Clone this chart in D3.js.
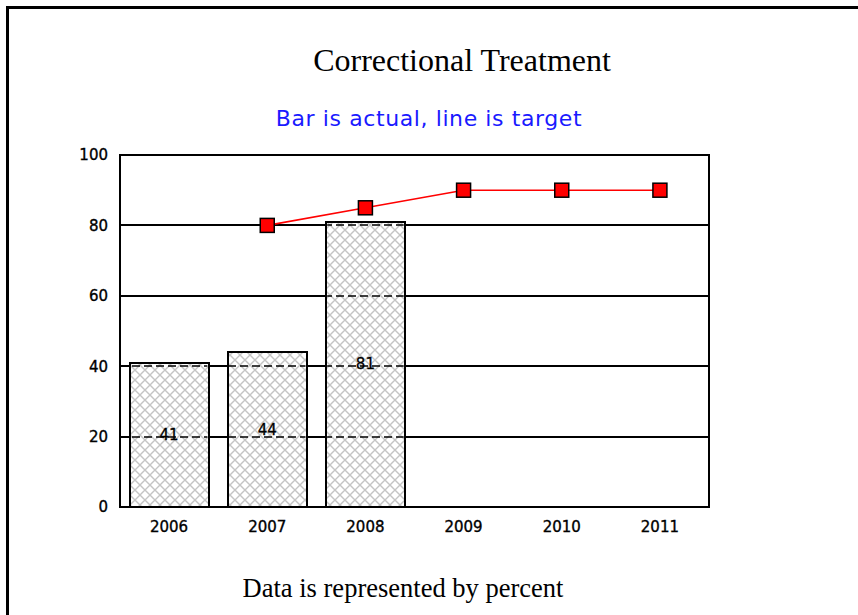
<!DOCTYPE html>
<html>
<head>
<meta charset="utf-8">
<script src="https://cdn.jsdelivr.net/npm/d3@7"></script>
<style>
  body { margin: 0; background: #fff; }
  svg { display: block; }
</style>
</head>
<body>
<div id="viz"></div>
<script>
// Chart data
const years = ['2006', '2007', '2008', '2009', '2010', '2011'];
const actual = [41, 44, 81, null, null, null];
const target = [null, 80, 85, 90, 90, 90];
const yTicks = [0, 20, 40, 60, 80, 100];

const W = 858, H = 615;
const margin = { top: 155, right: 149, bottom: 108, left: 120 };
const width = W - margin.left - margin.right;
const height = H - margin.top - margin.bottom;

const svg = d3.select('#viz').append('svg')
    .attr('width', W)
    .attr('height', H);

// hatch pattern for bars
const defs = svg.append('defs');
const pat = defs.append('pattern')
    .attr('id', 'hatch')
    .attr('patternUnits', 'userSpaceOnUse')
    .attr('width', 10).attr('height', 10);
pat.append('rect').attr('width', 10).attr('height', 10).attr('fill', '#fff');
pat.append('path').attr('d', 'M0,0 L10,10 M10,0 L0,10')
    .attr('stroke', '#c4c4c4').attr('stroke-width', 1.4);

// outer frame (only top and left visible)
svg.append('path')
    .attr('d', `M7.5,${H} L7.5,7.5 L${W + 5},7.5`)
    .attr('fill', 'none')
    .attr('stroke', '#000')
    .attr('stroke-width', 3);

// titles
svg.append('text')
    .attr('x', 462).attr('y', 71)
    .attr('text-anchor', 'middle')
    .style('font-family', '"Liberation Serif", "Times New Roman", serif')
    .style('font-size', '32px')
    .text('Correctional Treatment');

svg.append('text')
    .attr('x', 429).attr('y', 126)
    .attr('text-anchor', 'middle')
    .attr('fill', '#1a1aff')
    .style('font-family', '"DejaVu Sans", Arial, sans-serif')
    .style('font-size', '22px')
    .style('letter-spacing', '0.6px')
    .text('Bar is actual, line is target');

svg.append('text')
    .attr('x', 403).attr('y', 597)
    .attr('text-anchor', 'middle')
    .style('font-family', '"Liberation Serif", "Times New Roman", serif')
    .style('font-size', '26.5px')
    .text('Data is represented by percent');

const g = svg.append('g')
    .attr('transform', `translate(${margin.left},${margin.top})`);

const xScale = d3.scaleBand()
    .domain(years)
    .range([0, width])
    .paddingInner(0.2)
    .paddingOuter(0.1);

const xPoint = d => xScale(d) + xScale.bandwidth() / 2;

const yScale = d3.scaleLinear()
    .domain([0, 100])
    .range([height, 0]);

const gridTicks = yTicks.filter(t => t > 0 && t < 100);

// gridlines
g.selectAll('.grid')
    .data(gridTicks)
    .enter().append('line')
    .attr('class', 'grid')
    .attr('x1', 0).attr('x2', width)
    .attr('y1', d => Math.round(yScale(d)))
    .attr('y2', d => Math.round(yScale(d)))
    .attr('stroke', '#000')
    .attr('stroke-width', 2);

const barData = years.map((y, i) => ({ year: y, value: actual[i] })).filter(d => d.value != null);

// bars
g.selectAll('.bar')
    .data(barData)
    .enter().append('rect')
    .attr('class', 'bar')
    .attr('x', d => Math.round(xScale(d.year)))
    .attr('y', d => Math.round(yScale(d.value)))
    .attr('width', Math.round(xScale.bandwidth()))
    .attr('height', d => height - Math.round(yScale(d.value)))
    .attr('fill', 'url(#hatch)')
    .attr('stroke', '#000')
    .attr('stroke-width', 2);

// dashed gridlines seen through bars
const clip = defs.append('clipPath').attr('id', 'barclip');
clip.selectAll('rect')
    .data(barData)
    .enter().append('rect')
    .attr('x', d => xScale(d.year) + 1)
    .attr('y', d => yScale(d.value) + 1)
    .attr('width', xScale.bandwidth() - 2)
    .attr('height', d => height - yScale(d.value) - 1);

g.append('g')
    .attr('clip-path', 'url(#barclip)')
    .selectAll('line')
    .data(gridTicks)
    .enter().append('line')
    .attr('x1', 0).attr('x2', width)
    .attr('y1', d => Math.round(yScale(d)))
    .attr('y2', d => Math.round(yScale(d)))
    .attr('stroke', '#000')
    .attr('stroke-width', 1.6)
    .attr('stroke-dasharray', '8,4');

// bar value labels
g.selectAll('.label')
    .data(barData)
    .enter().append('text')
    .attr('class', 'label')
    .attr('x', d => xPoint(d.year))
    .attr('y', d => yScale(d.value / 2) + 5)
    .attr('text-anchor', 'middle')
    .attr('stroke', '#000')
    .attr('stroke-width', 0.3)
    .style('font-family', '"DejaVu Sans", Arial, sans-serif')
    .style('font-size', '15px')
    .text(d => d.value);

// plot frame
g.append('rect')
    .attr('x', 0).attr('y', 0)
    .attr('width', width).attr('height', height)
    .attr('fill', 'none')
    .attr('stroke', '#000')
    .attr('stroke-width', 2);

// axes
const yAxis = g.append('g')
    .call(d3.axisLeft(yScale).tickValues(yTicks).tickSize(0).tickPadding(12));
yAxis.select('.domain').remove();
yAxis.selectAll('text')
    .style('font-family', '"DejaVu Sans", Arial, sans-serif')
    .style('font-size', '15px')
    .attr('fill', '#000')
    .attr('stroke', '#000')
    .attr('stroke-width', 0.35);

const xAxis = g.append('g')
    .attr('transform', `translate(0,${height})`)
    .call(d3.axisBottom(xScale).tickSize(0).tickPadding(14));
xAxis.select('.domain').remove();
xAxis.selectAll('text')
    .style('font-family', '"DejaVu Sans", Arial, sans-serif')
    .style('font-size', '15px')
    .attr('fill', '#000')
    .attr('stroke', '#000')
    .attr('stroke-width', 0.35);

// target line
const lineData = years.map((y, i) => ({ year: y, value: target[i] })).filter(d => d.value != null);

g.append('path')
    .datum(lineData)
    .attr('fill', 'none')
    .attr('stroke', '#ff0000')
    .attr('stroke-width', 1.6)
    .attr('d', d3.line().x(d => xPoint(d.year)).y(d => yScale(d.value)));

g.selectAll('.marker')
    .data(lineData)
    .enter().append('rect')
    .attr('class', 'marker')
    .attr('x', d => xPoint(d.year) - 7)
    .attr('y', d => yScale(d.value) - 7)
    .attr('width', 14).attr('height', 14)
    .attr('fill', '#ff0000')
    .attr('stroke', '#000')
    .attr('stroke-width', 1.5);
</script>
</body>
</html>
